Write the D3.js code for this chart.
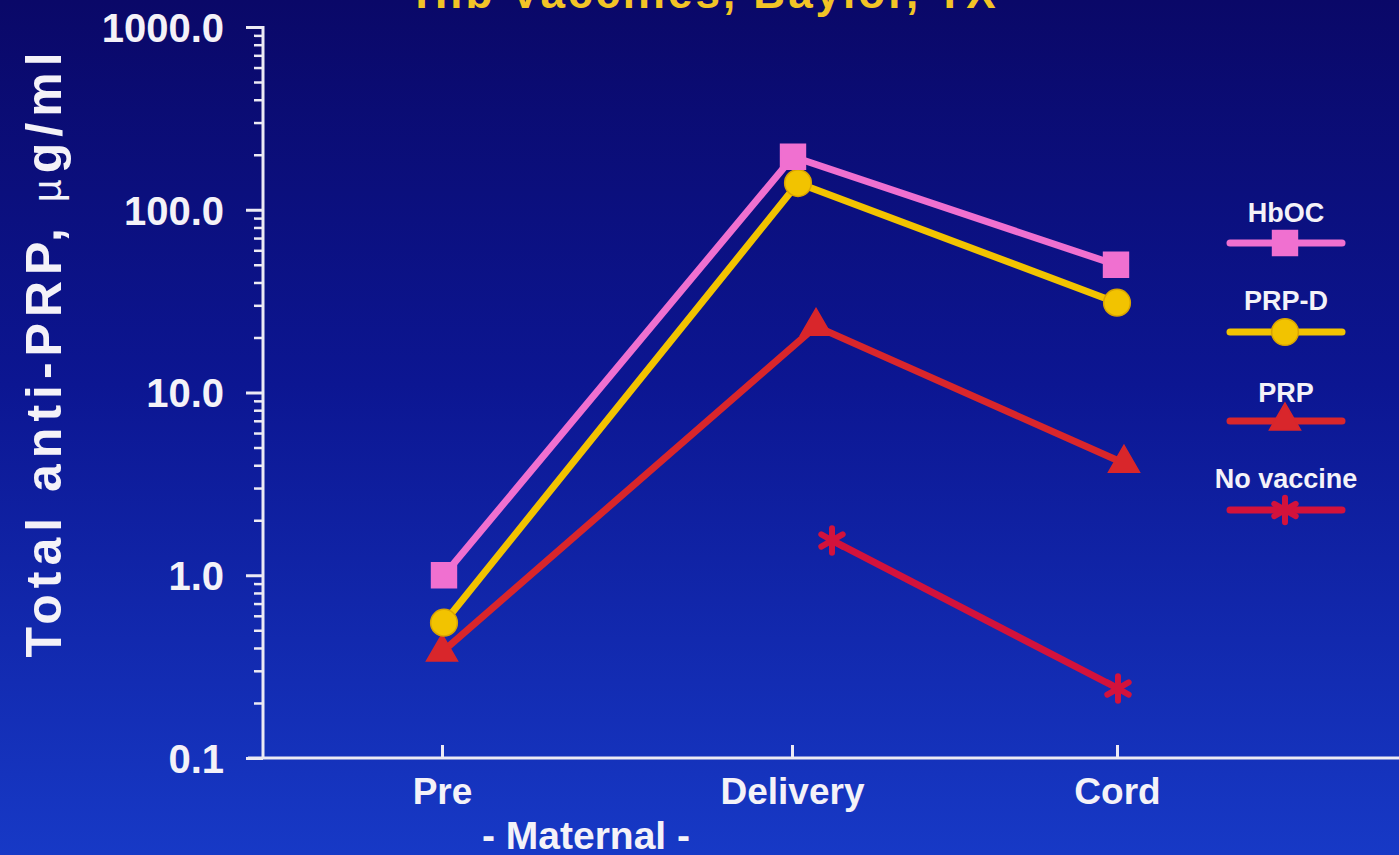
<!DOCTYPE html>
<html>
<head>
<meta charset="utf-8">
<script src="https://cdn.jsdelivr.net/npm/d3@7"></script>
<style>
  html, body { margin: 0; padding: 0; background: #0b0c70; overflow: hidden; }
  svg { display: block; }
  text { font-family: "Liberation Sans", Arial, Helvetica, sans-serif; font-weight: bold; }
</style>
</head>
<body>
<svg id="chart" width="1399" height="855"></svg>
<script>
// ---- data ----
const categories = ["Pre", "Delivery", "Cord"];
const seriesNames = ["HbOC", "PRP-D", "PRP", "No vaccine"];
const hbocValues = [1.0, 195, 50];
const prpdValues = [0.55, 140, 31];
const prpValues = [0.38, 23, 4.1];
const noVaccineValues = [null, 1.55, 0.24];
const yTickValues = [0.1, 1, 10, 100, 1000];
const yTickLabels = ["0.1", "1.0", "10.0", "100.0", "1000.0"];

const values = [hbocValues, prpdValues, prpValues, noVaccineValues];

// ---- styling per series ----
const colors = ["#f070d0", "#f2c300", "#d9262b", "#d3123c"];
const outlines = ["#f070d0", "#d9a400", "#d9262b", "#d3123c"];
const symbols = [d3.symbolSquare, d3.symbolCircle, d3.symbolTriangle, d3.symbolAsterisk];
const symbolSizes = [620, 560, 416, 430];
// small horizontal dodge (px) so overlapping markers stay readable
const dodge = [[2, 1, -1], [2, 6, 0], [0, 24, 7], [0, 40, 1]];

const W = 1399, H = 855;
const svg = d3.select("#chart");

// background
const defs = svg.append("defs");
const bg = defs.append("linearGradient").attr("id", "bg").attr("x1", 0).attr("y1", 0).attr("x2", 0).attr("y2", 1);
bg.append("stop").attr("offset", "0%").attr("stop-color", "#0a0868");
bg.append("stop").attr("offset", "45%").attr("stop-color", "#0c1692");
bg.append("stop").attr("offset", "100%").attr("stop-color", "#1739c6");
svg.append("rect").attr("width", W).attr("height", H).attr("fill", "url(#bg)");

// scales
const y = d3.scaleLog().domain([0.1, 1000]).range([758, 27]);
const x = d3.scaleOrdinal().domain(categories).range([442, 792, 1117]);
const axisX = 263;

// title (runs off the top edge)
svg.append("text")
  .attr("x", 707).attr("y", 8)
  .attr("text-anchor", "middle")
  .attr("fill", "#f2c426")
  .style("font-size", "44px")
  .style("letter-spacing", "3px")
  .text("Hib  Vaccines,  Baylor,  TX");

// y axis: major ticks with labels
const majorAxis = d3.axisLeft(y)
  .tickValues(yTickValues)
  .tickSize(17)
  .tickPadding(22)
  .tickFormat((d, i) => yTickLabels[i]);
const gMajor = svg.append("g").attr("transform", `translate(${axisX},0)`).call(majorAxis);
gMajor.select(".domain").remove();
gMajor.selectAll("line").attr("stroke", "#eceaf4").attr("stroke-width", 3);
gMajor.selectAll("text")
  .attr("fill", "#f4f2f8")
  .style("font-size", "40px")
  .style("font-family", "'Liberation Sans', Arial, sans-serif")
  .style("font-weight", "bold")
  .attr("dy", "0.36em");

// y axis: minor ticks
const minorTicks = [];
for (let e = -1; e < 3; e++) {
  for (let m = 2; m <= 9; m++) minorTicks.push(m * Math.pow(10, e));
}
const minorAxis = d3.axisLeft(y).tickValues(minorTicks).tickSize(9).tickFormat("");
const gMinor = svg.append("g").attr("transform", `translate(${axisX},0)`).call(minorAxis);
gMinor.select(".domain").remove();
gMinor.selectAll("line").attr("stroke", "#eceaf4").attr("stroke-width", 2.5);

// y axis line
svg.append("line")
  .attr("x1", axisX).attr("x2", axisX)
  .attr("y1", y(1000) - 1).attr("y2", y(0.1))
  .attr("stroke", "#eceaf4").attr("stroke-width", 3);

// x axis baseline
svg.append("line")
  .attr("x1", 248).attr("x2", W)
  .attr("y1", y(0.1)).attr("y2", y(0.1))
  .attr("stroke", "#eceaf4").attr("stroke-width", 3);

// x axis ticks (pointing up) and category labels
const xAxis = d3.axisBottom(x).tickSizeInner(-13).tickSizeOuter(0).tickPadding(20);
const gx = svg.append("g").attr("transform", `translate(0,${y(0.1)})`).call(xAxis);
gx.select(".domain").remove();
gx.selectAll("line").attr("stroke", "#eceaf4").attr("stroke-width", 3);
gx.selectAll("text")
  .attr("fill", "#f4f2f8")
  .style("font-size", "37px")
  .style("font-family", "'Liberation Sans', Arial, sans-serif")
  .style("font-weight", "bold")
  .attr("dy", "0.71em");

svg.append("text")
  .attr("x", 586).attr("y", 849)
  .attr("text-anchor", "middle")
  .attr("fill", "#f4f2f8")
  .style("font-size", "39px")
  .text("- Maternal -");

// y axis title
const yTitle = svg.append("text")
  .attr("transform", "translate(61,352) rotate(-90)")
  .attr("text-anchor", "middle")
  .attr("fill", "#f4f2f8")
  .style("font-size", "50px")
  .style("letter-spacing", "6px");
yTitle.append("tspan").text("Total anti-PRP, ");
yTitle.append("tspan").style("font-weight", "normal").style("font-size", "40px").text("\u00b5");
yTitle.append("tspan").text("g/ml");

// series lines
const line = d3.line()
  .defined(d => d.v != null)
  .x(d => x(d.c) + d.dx)
  .y(d => y(d.v));

const drawOrder = [3, 2, 1, 0];
drawOrder.forEach(s => {
  const pts = categories.map((c, i) => ({ c, v: values[s][i], dx: dodge[s][i] }));
  svg.append("path")
    .datum(pts)
    .attr("d", line)
    .attr("fill", "none")
    .attr("stroke", colors[s])
    .attr("stroke-width", 7)
    .attr("stroke-linejoin", "round");
});

function drawMarker(g, s, cx, cy) {
  const sym = d3.symbol().type(symbols[s]).size(symbolSizes[s]);
  const p = g.append("path")
    .attr("d", sym())
    .attr("transform", `translate(${cx},${cy})`);
  if (symbols[s] === d3.symbolAsterisk) {
    p.attr("fill", "none").attr("stroke", colors[s]).attr("stroke-width", 6).attr("stroke-linecap", "round");
  } else {
    p.attr("fill", colors[s]).attr("stroke", outlines[s]).attr("stroke-width", 1.5);
  }
}

const gMarks = svg.append("g");
drawOrder.forEach(s => {
  categories.forEach((c, i) => {
    const v = values[s][i];
    if (v == null) return;
    drawMarker(gMarks, s, x(c) + dodge[s][i], y(v));
  });
});

// legend
const legendX = 1286;
const legendLabelY = [222, 310, 402, 488];
const legendLineY = [243, 332, 421, 510];
const gLeg = svg.append("g");
seriesNames.forEach((name, s) => {
  gLeg.append("text")
    .attr("x", legendX).attr("y", legendLabelY[s])
    .attr("text-anchor", "middle")
    .attr("fill", "#f4f2f8")
    .style("font-size", "27px")
    .text(name);
  gLeg.append("line")
    .attr("x1", 1230).attr("x2", 1342)
    .attr("y1", legendLineY[s]).attr("y2", legendLineY[s])
    .attr("stroke", colors[s]).attr("stroke-width", 7)
    .attr("stroke-linecap", "round");
  drawMarker(gLeg, s, legendX - 1, legendLineY[s]);
});
</script>
</body>
</html>
